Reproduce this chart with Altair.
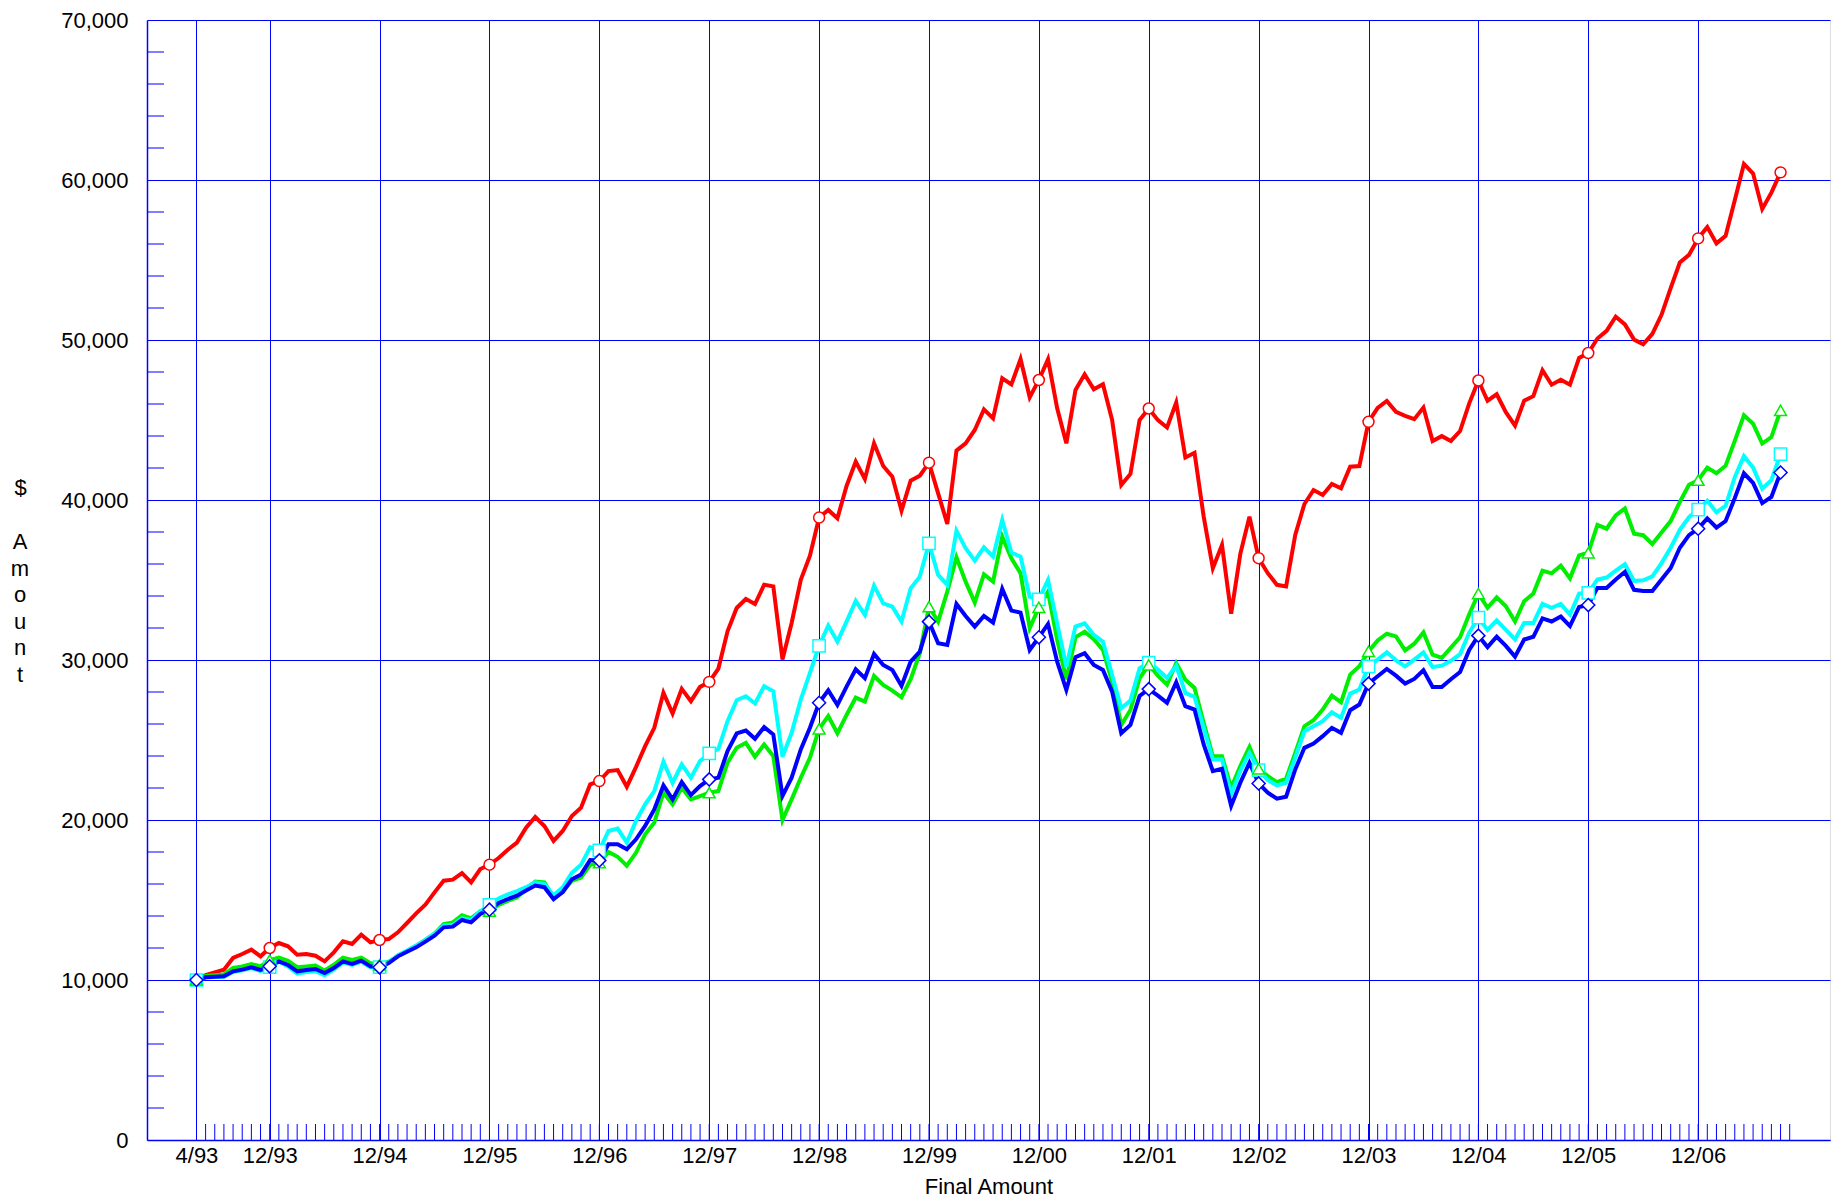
import altair as alt
import pandas as pd

# ---- data (monthly, starting 4/93) ----
start_year = 1993
start_month = 4  # April

red = [10000, 10312, 10480, 10646, 11375, 11625, 11896, 11479, 12000, 12312,
       12104, 11583, 11625, 11520, 11166, 11729, 12416, 12250, 12833, 12354,
       12500, 12562, 12979, 13562, 14166, 14708, 15478, 16207, 16270, 16686,
       16103, 16936, 17207, 17624, 18144, 18590, 19522, 20187, 19626, 18690,
       19314, 20250, 20770, 22226, 22434, 23058, 23120, 22080, 23307, 24618,
       25762, 27946, 26656, 28195, 27426, 28320, 28632, 29464, 31794, 33250,
       33811, 33499, 34706, 34602, 30026, 32314, 35018, 36515, 38900, 39380,
       38856, 40876, 42397, 41314, 43543, 42126, 41460, 39335, 41210, 41522,
       42334, 40418, 38502, 43085, 43543, 44376, 45667, 45105, 47605, 47230,
       48813, 46417, 47500, 48792, 45730, 43543, 46875, 47854, 46917, 47230,
       45001, 40939, 41627, 45001, 45720, 44990, 44532, 46091, 42661, 42952,
       38960, 35738, 37193, 32890, 36632, 38960, 36362, 35426, 34698, 34595,
       37817, 39751, 40624, 40312, 40998, 40728, 42079, 42121, 44886, 45759,
       46195, 45509, 45260, 45052, 45780, 43680, 43992, 43690, 44310, 46040,
       47468, 46203, 46609, 45487, 44652, 46203, 46489, 48113, 47206, 47516,
       47206, 48877, 49187, 50094, 50571, 51455, 50977, 50022, 49736, 50380,
       51574, 53245, 54844, 55321, 56348, 57064, 56038, 56515, 58735, 61003,
       60406, 58186, 59212, 60477]

cyan = [10000, 10150, 10180, 10200, 10500, 10600, 10750, 10550, 10800, 11150,
        10850, 10400, 10500, 10550, 10300, 10650, 11100, 10950, 11150, 10800,
        10800, 11100, 11550, 11850, 12150, 12500, 12900, 13400, 13450, 13850,
        13750, 14300, 14700, 15100, 15350, 15550, 15800, 16100, 16000, 15300,
        15800, 16700, 17200, 18300, 18100, 19314, 19459, 18586, 19938, 20978,
        21810, 23640, 22330, 23474, 22642, 23682, 24160, 24451, 26178, 27488,
        27738, 27280, 28362, 28050, 23952, 25450, 27530, 29194, 30890, 32150,
        31149, 32398, 33689, 32815, 34648, 33544, 33336, 32398, 34481, 35210,
        37294, 35314, 34690, 38085, 36981, 36210, 37044, 36460, 38752, 36710,
        36460, 33961, 33794, 35002, 32294, 29586, 32086, 32294, 31565, 31149,
        29066, 26983, 27462, 29482, 29840, 29397, 28877, 29647, 27942, 27692,
        25759, 23784, 23784, 21601, 23056, 24200, 23119, 22495, 22162, 22328,
        23888, 25551, 25863, 26175, 26736, 26383, 27900, 28150, 29605, 30021,
        30478, 29980, 29605, 30021, 30478, 29563, 29647, 29950, 30360, 31715,
        32645, 31881, 32478, 31881, 31284, 32311, 32311, 33505, 33266, 33505,
        32836, 34149, 34197, 35032, 35152, 35581, 35987, 34937, 34985, 35223,
        36059, 37014, 38136, 38923, 39401, 39950, 39234, 39640, 41430, 42742,
        42026, 40713, 41238, 42861]

green = [10000, 10250, 10300, 10350, 10750, 10850, 11000, 10850, 11250, 11400,
         11200, 10800, 10850, 10900, 10600, 10950, 11400, 11250, 11400, 11050,
         10950, 11150, 11500, 11800, 12150, 12500, 12900, 13500, 13600, 14050,
         13850, 14300, 14300, 14700, 14950, 15150, 15700, 16150, 16100, 15150,
         15500, 16200, 16400, 17200, 17330, 18000, 17700, 17150, 17950, 19106,
         19834, 21706, 20978, 22018, 21290, 21498, 21706, 21810, 23578, 24514,
         24826, 23952, 24722, 23994, 20000, 21290, 22642, 23890, 25700, 26500,
         25420, 26566, 27649, 27399, 29003, 28441, 28087, 27670, 28795, 30420,
         33336, 32398, 34273, 36419, 34898, 33586, 35356, 34898, 37710, 36356,
         35419, 31982, 33294, 34273, 31253, 28795, 31419, 31774, 31294, 30628,
         28649, 25941, 26879, 28858, 29700, 29023, 28462, 29814, 28773, 28254,
         26071, 23992, 23992, 22017, 23368, 24574, 23202, 22744, 22370, 22578,
         24200, 25863, 26237, 26902, 27775, 27359, 29085, 29605, 30540, 31227,
         31643, 31476, 30603, 31019, 31726, 30333, 30125, 30770, 31420, 32860,
         34149, 33266, 33911, 33361, 32406, 33672, 34149, 35581, 35414, 35891,
         35104, 36536, 36703, 38446, 38207, 39042, 39472, 37897, 37801, 37252,
         37968, 38684, 39878, 40952, 41238, 42026, 41668, 42145, 43697, 45296,
         44771, 43530, 43935, 45606]

blue = [10000, 10167, 10208, 10229, 10542, 10646, 10792, 10625, 10854, 11166,
        10937, 10542, 10625, 10687, 10437, 10750, 11166, 11000, 11208, 10854,
        10792, 11062, 11479, 11770, 12041, 12395, 12770, 13291, 13333, 13750,
        13604, 14124, 14395, 14812, 15062, 15270, 15600, 15900, 15800, 15050,
        15500, 16300, 16600, 17500, 17475, 18482, 18482, 18170, 18794, 19626,
        20666, 22163, 21290, 22371, 21560, 22122, 22538, 22642, 24306, 25408,
        25595, 25075, 25803, 25346, 21498, 22642, 24410, 25762, 27330, 28100,
        27191, 28337, 29420, 28858, 30378, 29691, 29378, 28379, 29899, 30524,
        32398, 31045, 30941, 33503, 32753, 32086, 32753, 32336, 34440, 33086,
        32961, 30628, 31419, 32253, 29899, 28129, 30170, 30420, 29691, 29378,
        28025, 25421, 25941, 27754, 28180, 27775, 27318, 28607, 27110, 26902,
        24720, 23056, 23202, 20873, 22328, 23576, 22287, 21705, 21330, 21455,
        23160, 24511, 24782, 25239, 25759, 25447, 26861, 27214, 28524, 28981,
        29439, 29023, 28524, 28815, 29356, 28316, 28316, 28800, 29243, 30627,
        31523, 30807, 31451, 30879, 30210, 31284, 31451, 32597, 32406, 32716,
        32120, 33314, 33433, 34507, 34507, 35032, 35510, 34388, 34316, 34316,
        35032, 35748, 37014, 37801, 38207, 38851, 38279, 38684, 40117, 41668,
        41071, 39806, 40188, 41716]

y_title_top = "$"
y_title_rest = ["A", "m", "o", "u", "n", "t"]

n = len(red)
# tick positions: the start month and every December
x_ticks = [0] + list(range(12 - start_month, n, 12))
marker_idx = x_ticks + [n - 1]
minor_x = list(range(1, n + 1))
y_major = list(range(0, 70001, 10000))
minor_y = [v for v in range(2000, 70000, 2000) if v % 10000]

W, H = 1683, 1120
BLUE_GRID = "#0000ff"
FONT = "Liberation Sans"

xscale = alt.Scale(domain=[-5.4, 178.4], nice=False, zero=False)
yscale = alt.Scale(domain=[0, 70000], nice=False, zero=True)

label_expr = (f"timeFormat(datetime({start_year}, {start_month - 1} + datum.value, 1), '%-m/%y')")

x_axis = alt.Axis(values=x_ticks, labelExpr=label_expr, grid=True, gridColor=BLUE_GRID,
                  gridWidth=1, gridOpacity=1, domainColor=BLUE_GRID, domainWidth=1.5, ticks=False,
                  labelFontSize=22, labelColor="black", labelPadding=5, labelFont=FONT,
                  labelFlush=False, labelOverlap=False,
                  title="Final Amount", titleFontSize=22, titleFontWeight="normal",
                  titleFont=FONT, titleColor="black", titlePadding=10)
y_axis = alt.Axis(values=y_major, format=",d", grid=True, gridColor=BLUE_GRID,
                  gridWidth=1, gridOpacity=1, domainColor=BLUE_GRID, domainWidth=1.5, ticks=False,
                  labelFontSize=22, labelColor="black", labelPadding=19, labelFont=FONT,
                  labelFlush=False, labelOverlap=False,
                  title=y_title_top, titleAngle=0,
                  titleX=-127, titleY=467, titleAlign="center", titleBaseline="middle",
                  titleFontSize=22, titleFontWeight="normal", titleFont=FONT,
                  titleColor="black")

series = [
    ("red", red, "#ff0000", "circle", 120),
    ("green", green, "#00ee00", "triangle-up", 140),
    ("cyan", cyan, "#00ffff", "square", 150),
    ("blue", blue, "#0000ff", "diamond", 170),
]

# base layer carrying the axes (monthly minor ticks along the bottom)
axes_df = pd.DataFrame({"idx": minor_x, "value": [0] * len(minor_x)})
base = alt.Chart(axes_df).mark_rule(color=BLUE_GRID, strokeWidth=1).encode(
    x=alt.X("idx:Q", scale=xscale, axis=x_axis),
    y=alt.value(H),
    y2=alt.value(H - 16),
)

ytick_df = pd.DataFrame({"idx": [0] * len(minor_y), "value": minor_y})
yticks = alt.Chart(ytick_df).mark_rule(color=BLUE_GRID, strokeWidth=1).encode(
    y=alt.Y("value:Q", scale=yscale, axis=y_axis),
    x=alt.value(0),
    x2=alt.value(17),
)

# the rest of the stacked y-axis title ("Amount"), one letter per line
ytitle = alt.Chart(pd.DataFrame({"idx": [0]})).mark_text(
    text=y_title_rest, font=FONT, fontSize=22, color="black", align="center",
    baseline="middle", lineHeight=26.5,
).encode(x=alt.value(-127), y=alt.value(522))

layers = [base, yticks, ytitle]
for name, vals, col, shape, size in series:
    df = pd.DataFrame({"idx": list(range(n)), "value": vals})
    layers.append(
        alt.Chart(df).mark_line(color=col, strokeWidth=4, strokeJoin="miter").encode(
            x=alt.X("idx:Q", scale=xscale),
            y=alt.Y("value:Q", scale=yscale),
        )
    )
for name, vals, col, shape, size in [series[0], series[2], series[1], series[3]]:
    df = pd.DataFrame({"idx": marker_idx, "value": [vals[i] for i in marker_idx]})
    layers.append(
        alt.Chart(df).mark_point(shape=shape, size=size, filled=True, fill="white",
                                 stroke=col, strokeWidth=1.5, opacity=1).encode(
            x=alt.X("idx:Q", scale=xscale),
            y=alt.Y("value:Q", scale=yscale),
        )
    )

chart = alt.layer(*layers).properties(
    width=W, height=H,
    autosize=alt.AutoSizeParams(type="none"),
    padding={"left": 139, "top": 12, "right": 1, "bottom": 58},
).configure_view(stroke=BLUE_GRID, strokeWidth=1.5).configure(background="white")

chart.save("out.html", embed_options={"renderer": "svg", "actions": False})
